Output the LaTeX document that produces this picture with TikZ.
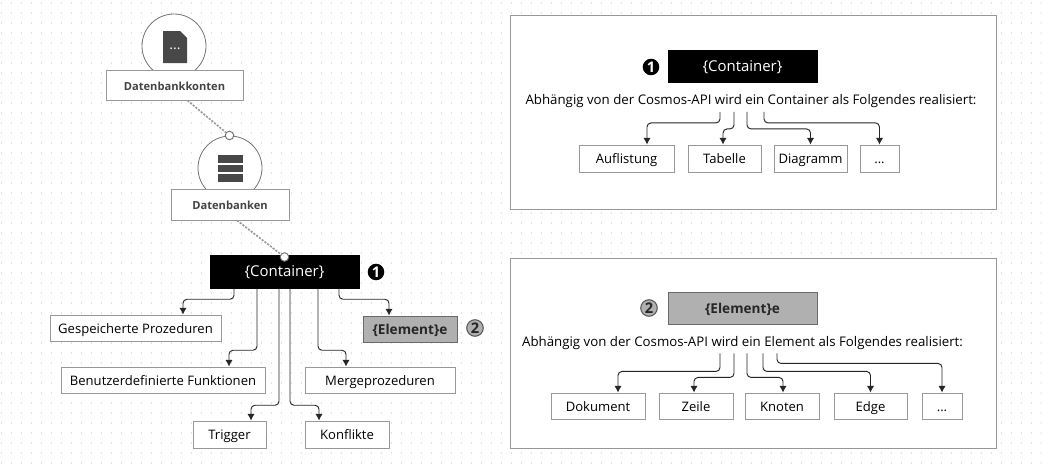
\documentclass[tikz,border=0pt]{standalone}
\usepackage{fontspec}
\setmainfont{Open Sans}
\usetikzlibrary{calc,arrows.meta,shadows}

\definecolor{linegray}{HTML}{989898}
\definecolor{icongray}{HTML}{484848}
\definecolor{textgray}{HTML}{444444}
\definecolor{elemgray}{HTML}{B0B0B0}

\tikzset{
  itembox/.style={draw=linegray, fill=white, line width=.7pt, inner sep=0pt, text height=8.6pt, text depth=.4pt, font=\fontsize{9.8}{11}\selectfont, text=black,
    drop shadow={shadow xshift=.5pt, shadow yshift=-.6pt, opacity=.22, fill=black}},
  titlebox/.style={itembox, text=textgray, font=\fontsize{8.35}{10}\selectfont\bfseries},
  blackbox/.style={draw=black, fill=black, inner sep=0pt, text height=8.8pt, text depth=1.2pt, text=white, font=\fontsize{11.2}{12}\selectfont},
  elembox/.style={draw=linegray!70!black, fill=elemgray, line width=.7pt, inner sep=0pt, text height=8.6pt, text depth=.8pt, text=black!85, font=\fontsize{10.2}{12}\selectfont\bfseries},
  size/.style 2 args={minimum width=#1*.75pt, minimum height=#2*.75pt},
  iconring/.style={circle, draw=black!55, fill=white, line width=.6pt, inner sep=0pt, minimum size=48pt},
  joint/.style={circle, draw=black!55, fill=white, line width=.7pt, inner sep=0pt, minimum size=6.4pt},
  badgeone/.style={circle, fill=black, text=white, inner sep=0pt, minimum size=12.4pt, font=\fontsize{11}{11}\selectfont\bfseries},
  badgetwo/.style={circle, draw=black!65, fill=elemgray, line width=.8pt, text=black!85, inner sep=0pt, minimum size=12.4pt, font=\fontsize{11}{11}\selectfont\bfseries},
  panel/.style={draw=linegray, fill=white, line width=.75pt, inner sep=0pt},
  note/.style={inner sep=0pt, text height=8.2pt, text depth=1.8pt, text=black, font=\fontsize{9.95}{12}\selectfont},
  arr/.style={draw=black!85, line width=.7pt, rounded corners=3pt, -{Latex[length=5pt,width=5.5pt]}},
  link/.style={draw=linegray, line width=1.2pt, dash pattern=on 1.6pt off 1pt},
  griddot/.style={draw=none, fill=black!12}
}

\begin{document}
\begin{tikzpicture}[x=.75pt, y=-.75pt]
  \useasboundingbox (0,0) rectangle (1042,464);

  % dot grid
  \foreach \i in {0,...,104}
    \foreach \j in {0,...,46}
      \fill[griddot] (\i*10+.5,\j*10+1.5) rectangle ++(1,2);

  % left tree
  \node[iconring] (ringkonten) at (174,46) {};
  \node[iconring] (ringbanken) at (230,168) {};
  \fill[icongray] (163,31) -- (180,31) -- (187,38) -- (187,63) -- (163,63) -- cycle;
  \node[inner sep=0pt, text=white, font=\fontsize{10.5}{10}\selectfont] (dots) at (175,49) {...};
  \fill[icongray] (218,155) rectangle (243,163);
  \fill[icongray] (218,165) rectangle (243,172);
  \fill[icongray] (218,174) rectangle (243,182);

  \node[titlebox, size={137}{30}] (konten) at (174.5,85) {Datenbankkonten};
  \node[titlebox, size={118}{31}] (banken) at (230,204.5) {Datenbanken};
  \node[blackbox, size={149}{33}] (container) at (284.5,271.5) {\{Container\}};
  \node[joint] (jointa) at (229.5,135.5) {};
  \node[joint] (jointb) at (284.5,257) {};
  \draw[link] ([xshift=13*.75pt]konten.south) -- (jointa);
  \draw[link] ([xshift=7*.75pt]banken.south) -- (jointb);

  \node[badgeone] (badgea) at (376,272) {1};
  \node[elembox, size={94}{26}] (element) at (410,329) {\{Element\}e};
  \node[badgetwo] (badgeb) at (475,328) {2};

  \node[itembox, size={171}{26}] (gespeichert) at (135.5,328) {Gespeicherte Prozeduren};
  \node[itembox, size={204}{26}] (benutzer) at (163,380) {Benutzerdefinierte Funktionen};
  \node[itembox, size={150}{26}] (merge) at (380,380) {Mergeprozeduren};
  \node[itembox, size={73}{27}] (trigger) at (229.5,434.5) {Trigger};
  \node[itembox, size={84}{27}] (konflikte) at (347,434.5) {Konflikte};

  \draw[arr] ([xshift=-50.5*.75pt]container.south) -- ++(0,11) -| ([xshift=47.5*.75pt]gespeichert.north);
  \draw[arr] ([xshift=-27.5*.75pt]container.south) -- ++(0,62) -| ([xshift=66*.75pt]benutzer.north);
  \draw[arr] ([xshift=-5.5*.75pt]container.south) -- ++(0,117) -| ([xshift=21.5*.75pt]trigger.north);
  \draw[arr] ([xshift=5.5*.75pt]container.south) -- ++(0,117) -| ([xshift=-28*.75pt]konflikte.north);
  \draw[arr] ([xshift=33.5*.75pt]container.south) -- ++(0,62) -| ([xshift=-34*.75pt]merge.north);
  \draw[arr] ([xshift=54.5*.75pt]container.south) -- ++(0,11) -| ([xshift=-21*.75pt]element.north);

  % top panel
  \node[panel, size={486}{194}] (panela) at (753,112) {};
  \node[blackbox, size={149}{32}] (containerb) at (742.5,66) {\{Container\}};
  \node[badgeone] (badgec) at (651,67) {1};
  \node[note] (notea) at (751,100) {Abhängig von der Cosmos-API wird ein Container als Folgendes realisiert:};
  \node[itembox, size={95}{27}] (auflistung) at (626.5,158.5) {Auflistung};
  \node[itembox, size={73}{27}] (tabelle) at (724.5,158.5) {Tabelle};
  \node[itembox, size={73}{27}] (diagramm) at (810.5,158.5) {Diagramm};
  \node[itembox, size={39}{27}] (mehra) at (879.5,158.5) {...};

  \draw[arr] ([xshift=-31*.75pt,yshift=-5*.75pt]notea.south) -- ++(0,11) -| ([xshift=20.5*.75pt]auflistung.north);
  \draw[arr] ([xshift=-17*.75pt,yshift=-5*.75pt]notea.south) -- ++(0,17) -| ([xshift=-1.5*.75pt]tabelle.north);
  \draw[arr] ([xshift=-4*.75pt,yshift=-5*.75pt]notea.south) -- ++(0,17) -| (diagramm.north);
  \draw[arr] ([xshift=13*.75pt,yshift=-5*.75pt]notea.south) -- ++(0,11) -| (mehra.north);

  % bottom panel
  \node[panel, size={486}{190}] (panelb) at (753,353) {};
  \node[elembox, size={149}{32}] (elementb) at (742.5,308) {\{Element\}e};
  \node[badgetwo] (badged) at (649,308) {2};
  \node[note] (noteb) at (742.5,342) {Abhängig von der Cosmos-API wird ein Element als Folgendes realisiert:};
  \node[itembox, size={94}{26}] (dokument) at (598,406) {Dokument};
  \node[itembox, size={74}{26}] (zeile) at (696,406) {Zeile};
  \node[itembox, size={74}{26}] (knoten) at (782,406) {Knoten};
  \node[itembox, size={73}{26}] (edge) at (870.5,406) {Edge};
  \node[itembox, size={40}{26}] (mehrb) at (942,406) {...};

  \draw[arr] ([xshift=-22.5*.75pt,yshift=-4.5*.75pt]noteb.south) -- ++(0,18) -| ([xshift=20*.75pt]dokument.north);
  \draw[arr] ([xshift=-8.5*.75pt,yshift=-4.5*.75pt]noteb.south) -- ++(0,24) -| ([xshift=-2*.75pt]zeile.north);
  \draw[arr] ([xshift=4.5*.75pt,yshift=-4.5*.75pt]noteb.south) -- ++(0,24) -| ([xshift=1*.75pt]knoten.north);
  \draw[arr] ([xshift=20.5*.75pt,yshift=-4.5*.75pt]noteb.south) -- ++(0,18) -| (edge.north);
  \draw[arr] ([xshift=34.5*.75pt,yshift=-4.5*.75pt]noteb.south) -- ++(0,10) -| (mehrb.north);
\end{tikzpicture}
\end{document}
